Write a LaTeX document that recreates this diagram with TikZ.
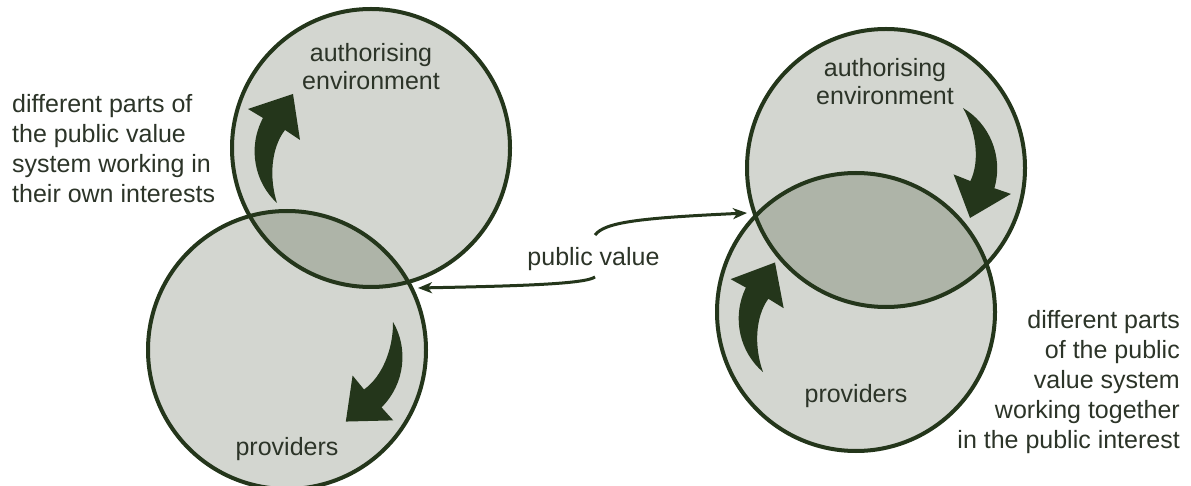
\documentclass[tikz,border=0pt]{standalone}
\usepackage{fontspec}
\setmainfont{Liberation Sans}
\usetikzlibrary{arrows.meta}

\definecolor{discfill}{HTML}{D3D6D0}
\definecolor{lensfill}{HTML}{AEB4A8}
\definecolor{ink}{HTML}{24361B}
\definecolor{txt}{HTML}{2C3428}

\tikzset{
  disc/.style={circle, fill=discfill, minimum size=278pt, inner sep=0pt},
  ring/.style={draw=ink, line width=4pt},
  lbl/.style={text=txt, inner sep=0pt, font=\fontsize{25}{28}\selectfont},
  note/.style={text=txt, inner sep=0pt, font=\fontsize{25}{30}\selectfont},
  conn/.style={draw=ink, line width=3pt, -{Stealth[length=14pt,width=11pt,inset=4pt]}},
  pics/swoosh/.style={code={
    \fill[ink] (0,0) .. controls (-22,-20) and (-30,-55) .. (-14,-85)
      -- (-29,-94) -- (16,-109) -- (23,-63) -- (8,-73)
      .. controls (-6,-55) and (-8,-25) .. (0,0) -- cycle;
  }}
}

\begin{document}
\begin{tikzpicture}[x=1pt, y=-1pt]
\useasboundingbox (0,0) rectangle (1191,486);
\fill[white] (0,0) rectangle (1191,486);

% ---- left pair: working apart ----
\node[disc] (la) at (371,148) {};
\node[disc] (lp) at (287,350) {};
\begin{scope}
  \clip (la.center) circle[radius=139pt];
  \fill[lensfill] (lp.center) circle[radius=139pt];
\end{scope}
\draw[ring] (la.center) circle[radius=139pt];
\draw[ring] (lp.center) circle[radius=139pt];

% ---- right pair: working together ----
\node[disc] (ra) at (886,168) {};
\node[disc] (rp) at (856,312) {};
\begin{scope}
  \clip (ra.center) circle[radius=139pt];
  \fill[lensfill] (rp.center) circle[radius=139pt];
\end{scope}
\draw[ring] (ra.center) circle[radius=139pt];
\draw[ring] (rp.center) circle[radius=139pt];

% ---- circle labels ----
\node[lbl, anchor=base] (laT) at (371,62)
  {\begin{tabular}[t]{@{}c@{}}authorising\\environment\end{tabular}};
\node[lbl, anchor=base] (lpT) at (287,455) {providers};
\node[lbl, anchor=base] (raT) at (885,77)
  {\begin{tabular}[t]{@{}c@{}}authorising\\environment\end{tabular}};
\node[lbl, anchor=base] (rpT) at (856,402) {providers};

% ---- side notes ----
\node[note, anchor=base west] (lnote) at (12,113)
  {\begin{tabular}[t]{@{}l@{}}different parts of\\the public value\\system working in\\their own interests\end{tabular}};
\node[note, anchor=base east] (rnote) at (1180,328)
  {\begin{tabular}[t]{@{}r@{}}different parts\\of the public\\value system\\working together\\in the public interest\end{tabular}};

% ---- curved flow arrows ----
\pic at (277,203) {swoosh};
\pic[rotate=-197] at (393,322) {swoosh};
\pic[rotate=-168] at (963,108) {swoosh};
\pic[rotate=2.1] at (763,372) {swoosh};

% ---- public value connectors ----
\node[note, anchor=base] (pv) at (593.5,266) {public value};
\coordinate (pvN) at (595,235);
\coordinate (pvS) at (595,277);
\coordinate (lx) at (418,288);
\coordinate (rx) at (747,213);
\draw[conn] (pvN) .. controls (605,222) and (640,218) .. (rx);
\draw[conn] (pvS) .. controls (585,284) and (520,286) .. (lx);
\end{tikzpicture}
\end{document}
